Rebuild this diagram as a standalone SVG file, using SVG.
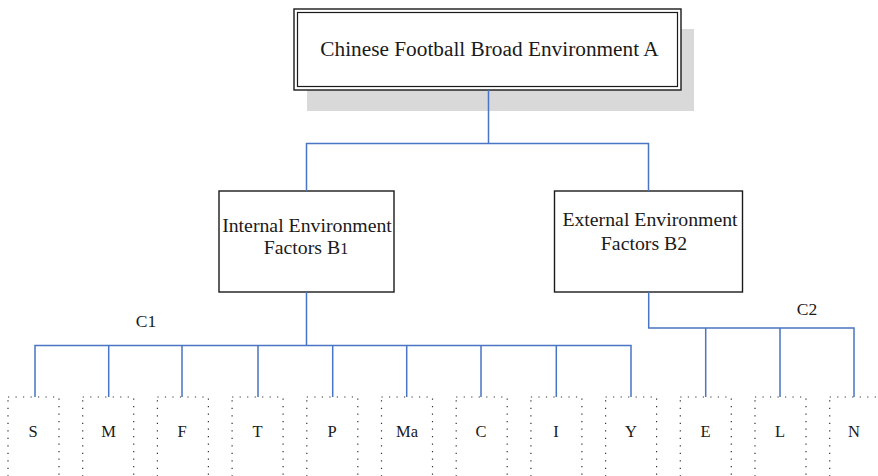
<svg xmlns="http://www.w3.org/2000/svg" width="878" height="476" viewBox="0 0 878 476">
  <style>
    .lbl { font-family: "Liberation Serif", "Times New Roman", serif; fill: #1a1a1a; text-anchor: middle; }
    .leafTxt { font-size: 16.5px; }
    .box { fill: #ffffff; stroke: #1a1a1a; stroke-width: 1.4; }
    .leaf { fill: none; stroke: #333333; stroke-width: 1.2; stroke-dasharray: 1.2 6.3; }
    .wire { fill: none; stroke: #4a74c4; stroke-width: 1.5; }
  </style>
  <rect width="878" height="476" fill="#ffffff"/>

  <!-- root node with drop shadow and double frame -->
  <g id="root">
    <rect x="307" y="29" width="387" height="82" fill="#d9d9d9"/>
    <rect x="294" y="9" width="387" height="81" class="box"/>
    <rect x="297.5" y="12.5" width="380" height="74" fill="none" stroke="#1a1a1a" stroke-width="1.2"/>
    <text x="489.5" y="56" class="lbl" font-size="21.3">Chinese Football Broad Environment A</text>
  </g>

  <!-- second level -->
  <g id="b1">
    <rect x="219" y="191" width="175" height="101" class="box"/>
    <text x="307" y="232" class="lbl" font-size="19.8">Internal Environment</text>
    <text x="306" y="254" class="lbl" font-size="19.8">Factors B<tspan font-size="16">1</tspan></text>
  </g>
  <g id="b2">
    <rect x="554.5" y="191" width="188" height="101" class="box"/>
    <text x="650" y="226" class="lbl" font-size="19.8">External Environment</text>
    <text x="644" y="250" class="lbl" font-size="19.8">Factors B2</text>
  </g>

  <!-- group labels -->
  <g id="c1"><text x="146" y="327" class="lbl" font-size="17.5">C1</text></g>
  <g id="c2"><text x="807" y="315" class="lbl" font-size="17.5">C2</text></g>

  <!-- leaf nodes (dotted frames) -->
  <g id="leaf-S"><rect x="8" y="397" width="51" height="90" class="leaf"/><text x="33" y="437" class="lbl leafTxt">S</text></g>
  <g id="leaf-M"><rect x="82.7" y="397" width="51" height="90" class="leaf"/><text x="108.5" y="437" class="lbl leafTxt">M</text></g>
  <g id="leaf-F"><rect x="157.4" y="397" width="51" height="90" class="leaf"/><text x="182" y="437" class="lbl leafTxt">F</text></g>
  <g id="leaf-T"><rect x="232.1" y="397" width="51" height="90" class="leaf"/><text x="257.5" y="437" class="lbl leafTxt">T</text></g>
  <g id="leaf-P"><rect x="306.8" y="397" width="51" height="90" class="leaf"/><text x="332" y="437" class="lbl leafTxt">P</text></g>
  <g id="leaf-Ma"><rect x="381.5" y="397" width="51" height="90" class="leaf"/><text x="407" y="437" class="lbl leafTxt">Ma</text></g>
  <g id="leaf-C"><rect x="456.2" y="397" width="51" height="90" class="leaf"/><text x="481" y="437" class="lbl leafTxt">C</text></g>
  <g id="leaf-I"><rect x="530.9" y="397" width="51" height="90" class="leaf"/><text x="556" y="437" class="lbl leafTxt">I</text></g>
  <g id="leaf-Y"><rect x="605.6" y="397" width="51" height="90" class="leaf"/><text x="631" y="437" class="lbl leafTxt">Y</text></g>
  <g id="leaf-E"><rect x="680.3" y="397" width="51" height="90" class="leaf"/><text x="705.5" y="437" class="lbl leafTxt">E</text></g>
  <g id="leaf-L"><rect x="755" y="397" width="51" height="90" class="leaf"/><text x="780" y="437" class="lbl leafTxt">L</text></g>
  <g id="leaf-N"><rect x="829.7" y="397" width="51" height="90" class="leaf"/><text x="854" y="437" class="lbl leafTxt">N</text></g>

  <!-- connectors -->
  <g id="connectors" class="wire">
    <path d="M488.5 90 V143.5 M306.5 191 V143.5 H648.5 V191"/>
    <path d="M306.5 292 V345.5 M35 397 V345.5 H631 V397
             M108.7 345.5 V397 M182 345.5 V397 M258 345.5 V397 M332.7 345.5 V397
             M406.7 345.5 V397 M481 345.5 V397 M556.3 345.5 V397"/>
    <path d="M648.7 292 V328 H854 V397 M705.7 328 V397 M780 328 V397"/>
  </g>
</svg>
